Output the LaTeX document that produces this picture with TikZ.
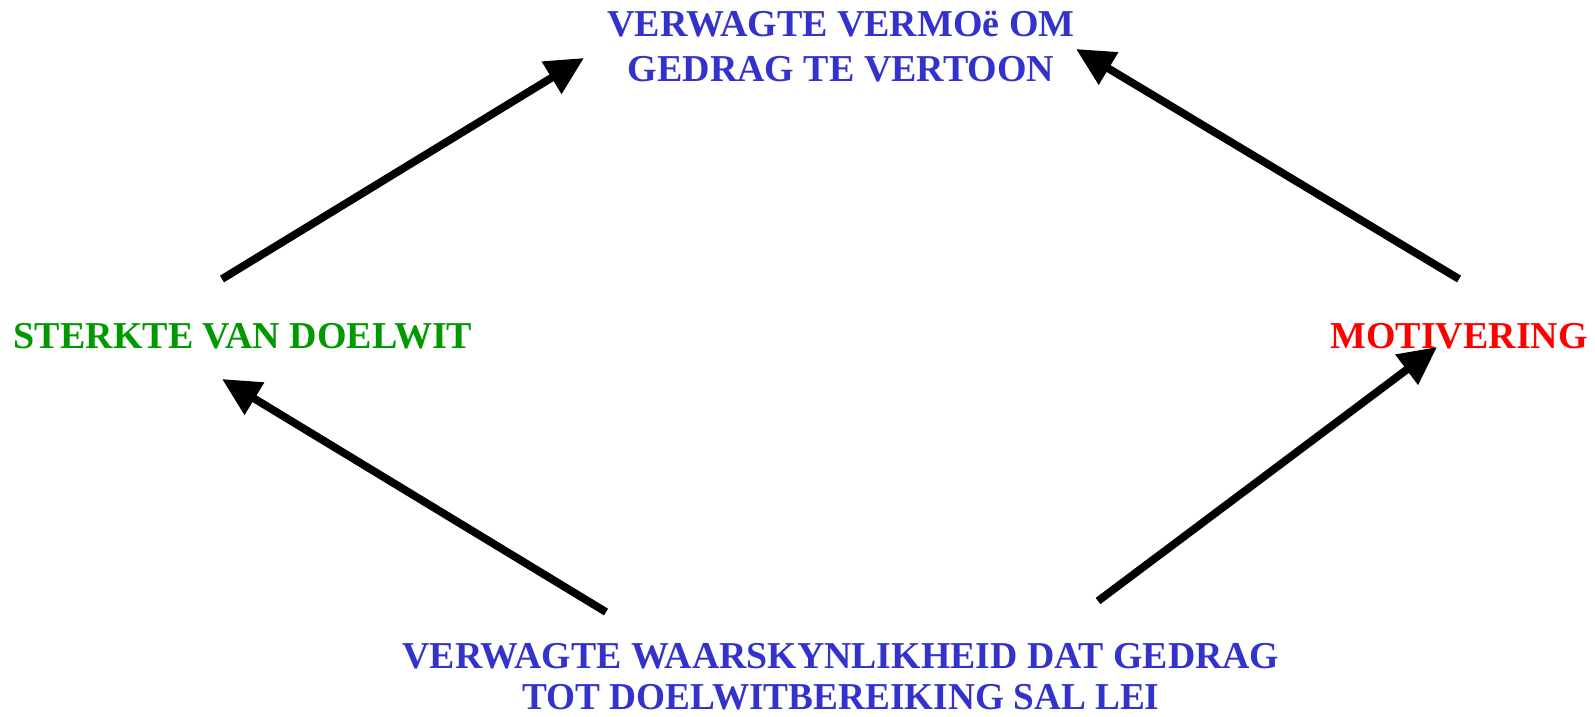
\documentclass[tikz,border=0pt]{standalone}
\usepackage{fontspec}
\setmainfont{Liberation Serif}
\usetikzlibrary{arrows.meta}
\definecolor{tblue}{HTML}{3333CC}
\definecolor{tgreen}{HTML}{009900}
\definecolor{tred}{HTML}{FF0000}
\begin{document}
\begin{tikzpicture}[x=0.5pt,y=-0.5pt,
  lbl/.style={font=\bfseries\fontsize{19pt}{22.5pt}\selectfont, align=center, inner sep=0pt},
  conn/.style={line width=3.9pt, -{Triangle[length=19pt,width=18pt]}}]
\useasboundingbox (0,0) rectangle (1595,717);
\node[lbl, text=tblue, anchor=base] (top) at (841,82) {VERWAGTE VERMOë OM\\GEDRAG TE VERTOON};
\node[lbl, text=tgreen, anchor=base] (left) at (243,348) {STERKTE VAN DOELWIT};
\node[lbl, text=tred, anchor=base] (right) at (1459,348) {MOTIVERING};
\node[lbl, text=tblue, anchor=base, font=\bfseries\fontsize{19pt}{20.5pt}\selectfont] (bottom) at (841,709)
  {\resizebox{438.5pt}{\height}{VERWAGTE WAARSKYNLIKHEID DAT GEDRAG}\\\resizebox{318.5pt}{\height}{TOT DOELWITBEREIKING SAL LEI}};
\coordinate (l1) at (222,279);
\coordinate (t1) at (584,58);
\coordinate (r1) at (1459,279);
\coordinate (t2) at (1076,49);
\coordinate (b1) at (606,612);
\coordinate (l2) at (222,379);
\coordinate (b2) at (1098,601);
\coordinate (r2) at (1437,347);
\draw[conn] (l1) -- (t1);
\draw[conn] (r1) -- (t2);
\draw[conn] (b1) -- (l2);
\draw[conn] (b2) -- (r2);
\end{tikzpicture}
\end{document}
